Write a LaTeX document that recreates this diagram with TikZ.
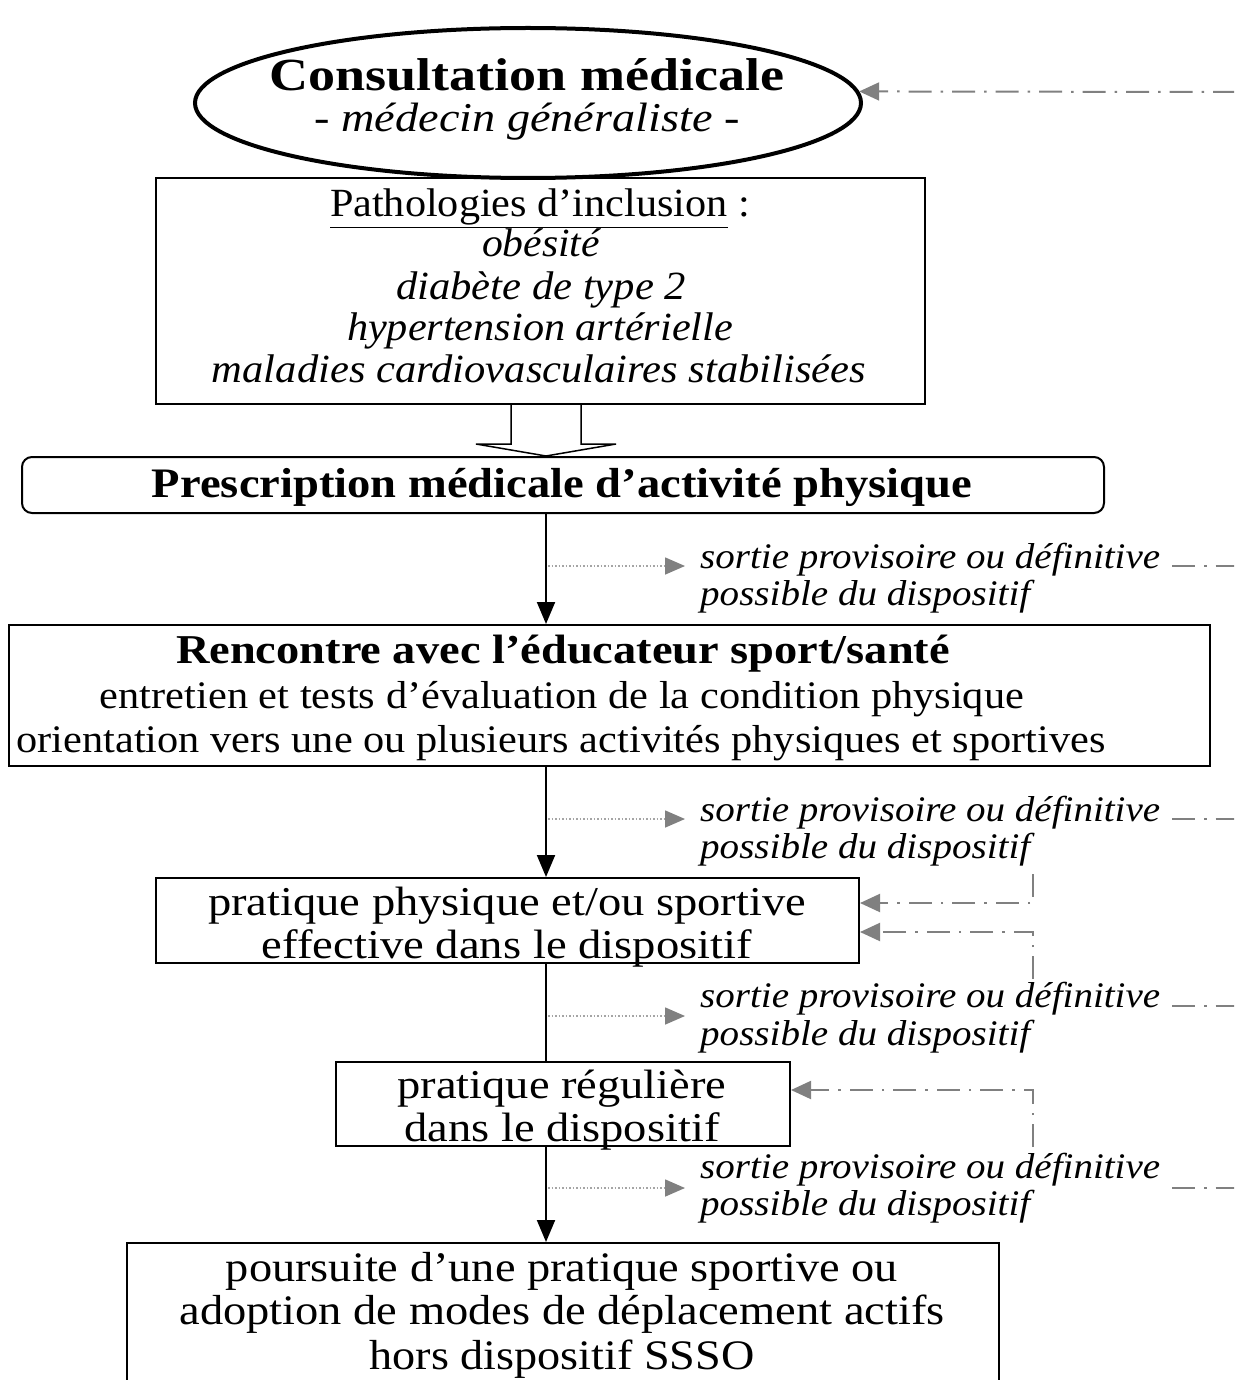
\documentclass[tikz,border=0pt]{standalone}
\usepackage{fontspec}
\setmainfont{Liberation Serif}
\usetikzlibrary{arrows.meta,shapes.geometric,calc}
\newcommand\fsz[1]{\fontsize{#1}{#1}\selectfont}
\newcommand\fw[2]{\resizebox{#1pt}{\height}{#2}}
\definecolor{lgray}{RGB}{128,128,128}
\definecolor{dgray}{RGB}{165,165,165}
\begin{document}
\begin{tikzpicture}[x=1pt,y=1pt,
  bx/.style={draw, line width=2pt, inner sep=0pt},
  txt/.style={anchor=base, inner sep=0pt},
  stxt/.style={anchor=base west, inner sep=0pt, font=\fsz{36}\itshape},
  blk/.style={line width=2pt, -{Triangle[length=22pt,width=18pt]}},
  plain/.style={line width=2pt},
  dotarr/.style={dgray, line width=1.6pt, dash pattern=on 1.5pt off 2pt, -{Triangle[length=20pt,width=17pt,lgray]}},
  dd/.style={lgray, line width=2pt, dash pattern=on 23pt off 9pt on 2.5pt off 9pt},
  ddarr/.style={dd, -{Triangle[length=20pt,width=18pt]}}
]
\useasboundingbox (0,0) rectangle (1234,-1380);
\clip (0,0) rectangle (1234,-1380);
\fill[white] (0,0) rectangle (1234,-1380);

% vertical axis of the flow
\coordinate (axis) at (546,0);

% ---- shapes
\node[ellipse, draw, line width=4pt, inner sep=0pt, minimum width=666pt, minimum height=150pt] (ell) at (528,-103) {};
\node[bx, minimum width=769pt, minimum height=226pt] (patho) at (540.5,-291) {};
\node[bx, rounded corners=10pt, minimum width=1082pt, minimum height=56pt] (presc) at (563,-485) {};
\node[bx, minimum width=1201pt, minimum height=141pt] (renc) at (609.5,-695.5) {};
\node[bx, minimum width=703pt, minimum height=85pt] (prat) at (507.5,-920.5) {};
\node[bx, minimum width=454pt, minimum height=84pt] (regu) at (563,-1104) {};
\node[bx, minimum width=872pt, minimum height=160pt] (fin) at (563,-1323) {};

% ---- texts
\node[txt] (c1) at (527,-91) {\fsz{46}\bfseries\fw{515}{Consultation médicale}};
\node[txt] (c2) at (527,-132) {\fsz{41}\itshape\fw{425}{- médecin généraliste -}};

\node[txt] (p0) at (540,-217) {\fsz{40}\fw{420}{\underline{Pathologies d’inclusion} :}};
\node[txt] (p1) at (541,-257) {\fsz{40}\itshape\fw{118}{obésité}};
\node[txt] (p2) at (541,-299) {\fsz{40}\itshape\fw{290}{diabète de type 2}};
\node[txt] (p3) at (540,-340) {\fsz{40}\itshape\fw{386}{hypertension artérielle}};
\node[txt] (p4) at (539,-382) {\fsz{40}\itshape\fw{654}{maladies cardiovasculaires stabilisées}};

\node[txt] (pr) at (562,-497) {\fsz{42}\bfseries\fw{820}{Prescription médicale d’activité physique}};

\node[txt] (r1) at (563,-663) {\fsz{41}\bfseries\fw{774}{Rencontre avec l’éducateur sport/santé}};
\node[txt] (r2) at (562,-708) {\fsz{39}\fw{924}{entretien et tests d’évaluation de la condition physique}};
\node[txt] (r3) at (561,-752) {\fsz{39}\fw{1089}{orientation vers une ou plusieurs activités physiques et sportives}};

\node[txt] (q1) at (507,-915) {\fsz{41}\fw{598}{pratique physique et/ou sportive}};
\node[txt] (q2) at (507,-958) {\fsz{41}\fw{490}{effective dans le dispositif}};

\node[txt] (g1) at (562,-1098) {\fsz{41}\fw{329}{pratique régulière}};
\node[txt] (g2) at (562,-1141) {\fsz{41}\fw{315}{dans le dispositif}};

\node[txt] (f1) at (562,-1281) {\fsz{42}\fw{672}{poursuite d’une pratique sportive ou}};
\node[txt] (f2) at (562,-1324) {\fsz{42}\fw{765}{adoption de modes de déplacement actifs}};
\node[txt] (f3) at (562,-1369) {\fsz{42}\fw{385}{hors dispositif SSSO}};

\node[stxt] (s1a) at (700,-568) {\fw{460}{sortie provisoire ou définitive}};
\node[stxt] (s1b) at (700,-605) {\fw{330}{possible du dispositif}};
\node[stxt] (s2a) at (700,-821) {\fw{460}{sortie provisoire ou définitive}};
\node[stxt] (s2b) at (700,-858) {\fw{330}{possible du dispositif}};
\node[stxt] (s3a) at (700,-1007) {\fw{460}{sortie provisoire ou définitive}};
\node[stxt] (s3b) at (700,-1045) {\fw{330}{possible du dispositif}};
\node[stxt] (s4a) at (700,-1178) {\fw{460}{sortie provisoire ou définitive}};
\node[stxt] (s4b) at (700,-1215) {\fw{330}{possible du dispositif}};

% ---- hollow arrow between pathologies and prescription
\draw[line width=1.5pt, fill=white]
  ($(patho.south -| axis)+(-35,0)$) -- ++(0,-39) -- ++(-35,0)
  -- (presc.north -| axis)
  -- ($(patho.south -| axis)+(70,-39)$) -- ++(-35,0) -- ($(patho.south -| axis)+(35,0)$);

% ---- main flow arrows
\draw[blk] (presc.south -| axis) -- (renc.north -| axis);
\draw[blk] (renc.south -| axis) -- (prat.north -| axis);
\draw[plain] (prat.south -| axis) -- (regu.north -| axis);
\draw[blk] (regu.south -| axis) -- (fin.north -| axis);

% ---- exits (dotted)
\coordinate (b1s) at (548,-566);  \coordinate (b1e) at (685,-566);
\coordinate (b2s) at (548,-819);  \coordinate (b2e) at (685,-819);
\coordinate (b3s) at (548,-1016); \coordinate (b3e) at (685,-1016);
\coordinate (b4s) at (548,-1188); \coordinate (b4e) at (685,-1188);
\draw[dotarr] (b1s) -- (b1e);
\draw[dotarr] (b2s) -- (b2e);
\draw[dotarr] (b3s) -- (b3e);
\draw[dotarr] (b4s) -- (b4e);

% ---- dash-dot returns
\coordinate (top) at (1236,-92);
\draw[ddarr] (top) -- (ell.2);

\coordinate (e1s) at (1172,-566);  \coordinate (e1e) at (1236,-566);
\coordinate (e2s) at (1172,-819);  \coordinate (e2e) at (1236,-819);
\coordinate (e3s) at (1172,-1006); \coordinate (e3e) at (1236,-1006);
\coordinate (e4s) at (1172,-1188); \coordinate (e4e) at (1236,-1188);
\draw[dd] (e1s) -- (e1e);
\draw[dd] (e2s) -- (e2e);
\draw[dd] (e3s) -- (e3e);
\draw[dd] (e4s) -- (e4e);

\coordinate (u1) at (1033,-874);
\coordinate (u2) at (1033,-979);
\coordinate (u3) at (1033,-1147);
\draw[ddarr] (u1) |- ($(prat.east)+(0,17.5)$);
\draw[ddarr] (u2) |- ($(prat.east)+(0,-11.5)$);
\draw[ddarr] (u3) |- ($(regu.east)+(0,14)$);
\end{tikzpicture}
\end{document}
